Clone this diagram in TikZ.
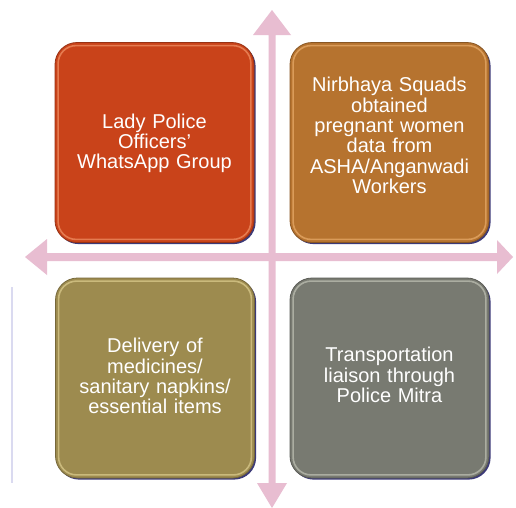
\documentclass[tikz,border=0pt]{standalone}
\usepackage{fontspec}
\setmainfont{Liberation Sans}
\definecolor{arrowpink}{HTML}{E8BDD1}
\definecolor{shadowblue}{HTML}{3C3A78}
\definecolor{cA}{HTML}{C9431A}
\definecolor{cAh}{HTML}{EC8A5E}
\definecolor{cB}{HTML}{B6732F}
\definecolor{cBh}{HTML}{E3A664}
\definecolor{cC}{HTML}{9D8B4F}
\definecolor{cCh}{HTML}{D6C688}
\definecolor{cD}{HTML}{787A71}
\definecolor{cDh}{HTML}{B8BAAE}
\definecolor{faintline}{HTML}{DADAF0}
\tikzset{
  quad/.style={minimum width=199pt, minimum height=200pt, rounded corners=22pt,
    preaction={fill=shadowblue, transform canvas={shift={(1.6pt,-1.6pt)}}}},
  quadtext/.style={text width=190pt, align=center, text=white,
    font=\fontsize{20}{20.3}\selectfont},
  bevel/.style={rounded corners=18pt, line width=1.6pt},
  axis/.style={fill=arrowpink, draw=none}
}
\begin{document}
\begin{tikzpicture}[x=1pt,y=-1pt]
\useasboundingbox[fill=white] (0,0) rectangle (516,507);
% faint line at left edge
\draw[faintline, line width=1.8pt] (12,287) -- (12,483);
% axis arrows
\coordinate (top) at (272,10);
\coordinate (bottom) at (272,508);
\coordinate (left) at (25,257);
\coordinate (right) at (513,257);
\fill[axis] (top) -- (291,35) -- (275.5,35) -- (275.5,483) -- (287,483) -- (bottom)
  -- (257,483) -- (268.5,483) -- (268.5,35) -- (253,35) -- cycle;
\fill[axis] (left) -- (47,239) -- (47,253) -- (497,253) -- (497,240) -- (right)
  -- (497,274) -- (497,261) -- (47,261) -- (47,275) -- cycle;
% boxes
\node[quad, fill=cA, draw=cA!75!black, line width=0.8pt] (tl) at (154.5,142.5) {};
\node[quad, fill=cB, draw=cB!75!black, line width=0.8pt] (tr) at (389.5,142.5) {};
\node[quad, fill=cC, draw=cC!75!black, line width=0.8pt] (bl) at (155,378) {};
\node[quad, fill=cD, draw=cD!75!black, line width=0.8pt] (br) at (389.5,378) {};
% bevel highlights
\foreach \n/\c in {tl/cAh, tr/cBh, bl/cCh, br/cDh}{
  \draw[bevel, draw=\c, opacity=0.8] ([shift={(3.5pt,-3.5pt)}]\n.north west) rectangle ([shift={(-3.5pt,3.5pt)}]\n.south east);
}
% texts
\node[quadtext] (tltext) at ([yshift=-1pt]tl.center) {Lady Police\\Officers'\\WhatsApp Group};
\node[quadtext] (trtext) at ([yshift=7pt]tr.center) {Nirbhaya Squads\\obtained\\pregnant women\\data from\\ASHA/Anganwadi\\Workers};
\node[quadtext] (bltext) at ([yshift=2pt]bl.center) {Delivery of\\medicines/\\sanitary napkins/\\essential items};
\node[quadtext] (brtext) at ([yshift=3pt]br.center) {Transportation\\liaison through\\Police Mitra};
\end{tikzpicture}
\end{document}
